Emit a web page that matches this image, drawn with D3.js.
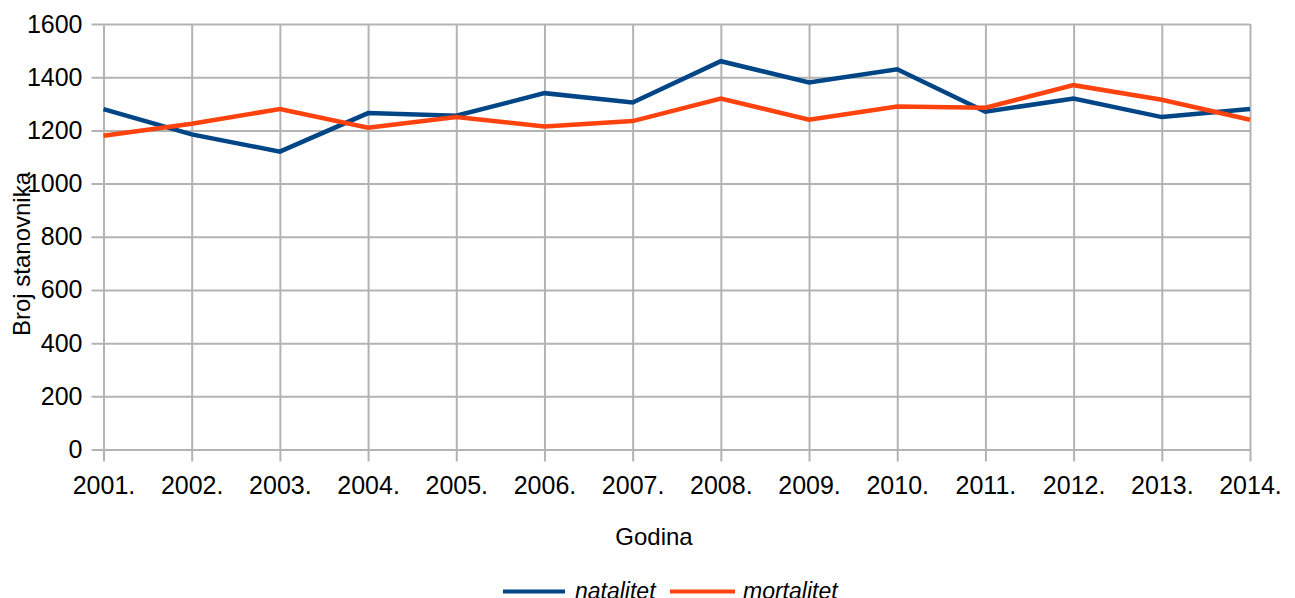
<!DOCTYPE html>
<html>
<head>
<meta charset="utf-8">
<script src="https://cdn.jsdelivr.net/npm/d3@7"></script>
<style>
  body { margin: 0; background: #fff; }
  text { font-family: "Liberation Sans", Arial, sans-serif; fill: #000; }
</style>
</head>
<body>
<svg id="chart" width="1295" height="598"></svg>
<script>
// data
var years = ['2001.', '2002.', '2003.', '2004.', '2005.', '2006.', '2007.',
             '2008.', '2009.', '2010.', '2011.', '2012.', '2013.', '2014.'];
var natalitet = [1280, 1185, 1120, 1265, 1255, 1340, 1305, 1460, 1380, 1430, 1270, 1320, 1250, 1280];
var mortalitet = [1180, 1225, 1280, 1210, 1250, 1215, 1235, 1320, 1240, 1290, 1285, 1370, 1315, 1240];
var yTicks = [0, 200, 400, 600, 800, 1000, 1200, 1400, 1600];

var series = [
  {name: 'natalitet', values: natalitet, color: '#004586'},
  {name: 'mortalitet', values: mortalitet, color: '#ff420e'}
];

var svg = d3.select('#chart');
// plot box (not "top": that name is taken by window.top)
var pLeft = 103.5, pRight = 1250, pTop = 24, pBottom = 449.5;

var x = d3.scalePoint().domain(years).range([pLeft, pRight]);
var y = d3.scaleLinear().domain([0, 1600]).range([pBottom, pTop]);

// horizontal grid + y ticks
var yAxis = d3.axisLeft(y).tickValues(yTicks).tickFormat(d3.format('d'))
  .tickSize(-(pRight - pLeft)).tickSizeOuter(0);
var gy = svg.append('g').attr('transform', 'translate(' + pLeft + ',0)').call(yAxis);
gy.select('.domain').remove();
gy.selectAll('.tick line').attr('stroke', '#b3b3b3').attr('stroke-width', 2)
  .attr('x1', -12);
gy.selectAll('.tick text').attr('font-size', 25).attr('x', -21)
  .style('font-family', '"Liberation Sans", Arial, sans-serif').attr('fill', '#000');

// vertical grid + x ticks
var xAxis = d3.axisBottom(x).tickSize(-(pBottom - pTop)).tickSizeOuter(0);
var gx = svg.append('g').attr('transform', 'translate(0,' + pBottom + ')').call(xAxis);
gx.select('.domain').remove();
gx.selectAll('.tick line').attr('stroke', '#b3b3b3').attr('stroke-width', 2)
  .attr('y1', 12);
gx.selectAll('.tick text').attr('font-size', 25).attr('y', 27).attr('dy', '0.71em')
  .style('font-family', '"Liberation Sans", Arial, sans-serif').attr('fill', '#000');

// lines
var line = d3.line()
  .x(function(d, i) { return x(years[i]); })
  .y(function(d) { return y(d); });

series.forEach(function(s) {
  svg.append('path')
    .datum(s.values)
    .attr('d', line)
    .attr('fill', 'none')
    .attr('stroke', s.color)
    .attr('stroke-width', 4.5)
    .attr('stroke-linejoin', 'miter');
});

// axis titles
svg.append('text').attr('x', 654).attr('y', 545)
  .attr('text-anchor', 'middle').attr('font-size', 24).text('Godina');
svg.append('text')
  .attr('transform', 'translate(30,254) rotate(-90)')
  .attr('text-anchor', 'middle').attr('font-size', 24).text('Broj stanovnika');

// legend (text is cut by the bottom edge, as in the original)
var legend = [
  {x: 503, w: 62, tx: 575},
  {x: 670, w: 65, tx: 743}
];
series.forEach(function(s, i) {
  var l = legend[i];
  svg.append('line').attr('x1', l.x).attr('x2', l.x + l.w)
    .attr('y1', 591.5).attr('y2', 591.5)
    .attr('stroke', s.color).attr('stroke-width', 4);
  svg.append('text').attr('x', l.tx).attr('y', 599)
    .attr('font-size', 23).attr('font-style', 'italic').text(s.name);
});
</script>
</body>
</html>
